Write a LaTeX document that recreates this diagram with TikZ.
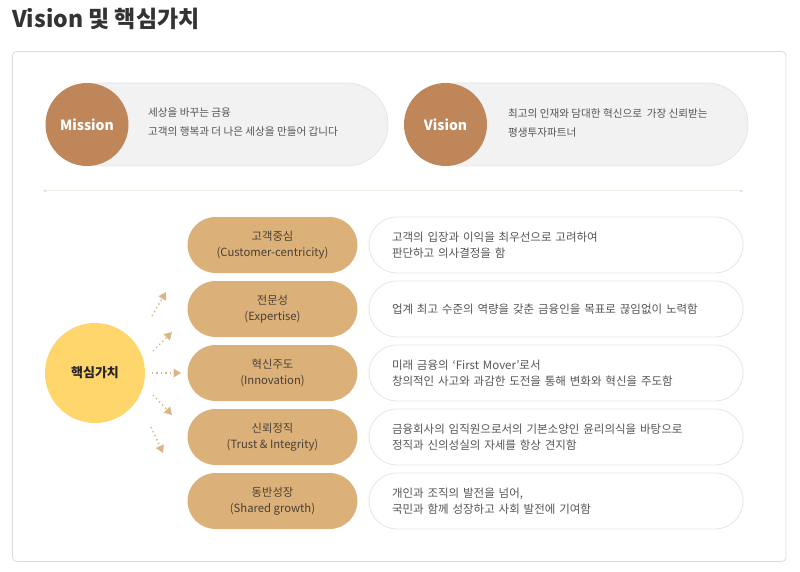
\documentclass[tikz,border=0pt]{standalone}
\usepackage{fontspec}
\setmainfont{Noto Sans CJK KR}
\usetikzlibrary{arrows.meta}
\definecolor{brownc}{HTML}{BE8659}
\definecolor{tanc}{HTML}{DBB179}
\definecolor{yellowc}{HTML}{FFD66B}
\definecolor{arrowc}{HTML}{D9B684}
\definecolor{grayfill}{HTML}{F2F2F2}
\definecolor{grayborder}{HTML}{E6E6E6}
\definecolor{descborder}{HTML}{E6E6E6}
\definecolor{framec}{HTML}{DCDCDC}
\definecolor{linec}{HTML}{F1ECE5}
\definecolor{textgray}{HTML}{555555}
\definecolor{titlec}{HTML}{333333}
\definecolor{valtext}{HTML}{4A4036}
\tikzset{
  graypill/.style={draw=grayborder, fill=grayfill, line width=0.8pt, minimum width=328pt, minimum height=83pt, rounded corners=41.5pt, inner sep=0pt},
  browncirc/.style={circle, fill=brownc, minimum size=83pt, inner sep=0pt, text=white, font=\fontsize{14}{16}\selectfont\bfseries},
  pilltext/.style={anchor=west, align=left, inner sep=0pt, text=textgray, font=\fontsize{10.6}{19}\selectfont},
  valpill/.style={fill=tanc, minimum width=170pt, minimum height=56pt, rounded corners=28pt, inner sep=0pt, align=center, text=valtext, font=\fontsize{11.3}{16}\selectfont},
  descpill/.style={draw=descborder, fill=white, line width=0.8pt, minimum height=56pt, rounded corners=28pt, inner xsep=23pt, inner ysep=0pt, text width=328pt, align=left, text=textgray, font=\fontsize{11.5}{15.5}\selectfont},
  corecirc/.style={circle, fill=yellowc, minimum size=100pt, inner sep=0pt, text=black!85, font=\fontsize{13}{15}\selectfont\bfseries},
  dotarrow/.style={draw=arrowc, line width=1.4pt, dash pattern=on 1.4pt off 3pt, -{Triangle[length=7.5pt,width=8.5pt]}}
}
\begin{document}
\begin{tikzpicture}[x=1pt,y=-1pt]
\useasboundingbox (0,0) rectangle (800,572);
\fill[white] (0,0) rectangle (800,572);
% title
\node[anchor=base west, inner sep=0pt, text=titlec, font=\fontsize{23}{26}\selectfont\bfseries] (title) at (12,28) {Vision 및 핵심가치};
% frame
\draw[framec, line width=0.8pt, rounded corners=4pt] (12.5,51.5) rectangle (786,561.5);
% mission
\node[graypill] (mpill) at (224,124.5) {};
\node[browncirc] (mission) at (87,124.5) {Mission};
\node[pilltext] (mtext) at (148,122.5) {세상을 바꾸는 금융\\고객의 행복과 더 나은 세상을 만들어 갑니다};
% vision
\node[graypill] (vpill) at (584,124.5) {};
\node[browncirc] (vision) at (445.5,124.5) {Vision};
\node[pilltext] (vtext) at (508,122.5) {최고의 인재와 담대한 혁신으로\ \ 가장 신뢰받는\\평생투자파트너};
% divider
\coordinate (l1) at (45,191);
\coordinate (l2) at (741,191);
\draw[linec, line width=1pt] (l1) -- (l2);
\fill[black!12] (l1) circle (1.5pt);
\fill[black!12] (l2) circle (1.5pt);
% core
\node[corecirc] (core) at (95,373) {핵심가치};
% values
\node[valpill] (v1) at (272.5,245) {고객중심\\(Customer-centricity)};
\node[valpill] (v2) at (272.5,309) {전문성\\(Expertise)};
\node[valpill] (v3) at (272.5,373) {혁신주도\\(Innovation)};
\node[valpill] (v4) at (272.5,437) {신뢰정직\\(Trust \& Integrity)};
\node[valpill] (v5) at (272.5,501) {동반성장\\(Shared growth)};
% descriptions
\node[descpill] (d1) at (556,245) {고객의 입장과 이익을 최우선으로 고려하여\\판단하고 의사결정을 함};
\node[descpill] (d2) at (556,309) {업계 최고 수준의 역량을 갖춘 금융인을 목표로 끊임없이 노력함};
\node[descpill] (d3) at (556,373) {미래 금융의 ‘First Mover’로서\\창의적인 사고와 과감한 도전을 통해 변화와 혁신을 주도함};
\node[descpill] (d4) at (556,437) {금융회사의 임직원으로서의 기본소양인 윤리의식을 바탕으로\\정직과 신의성실의 자세를 항상 견지함};
\node[descpill] (d5) at (556,501) {개인과 조직의 발전을 넘어,\\국민과 함께 성장하고 사회 발전에 기여함};
% arrows
\coordinate (a1s) at (152,316); \coordinate (a1e) at (166,292);
\coordinate (a2s) at (153,351); \coordinate (a2e) at (172,332);
\coordinate (a3s) at (152,373); \coordinate (a3e) at (181,373);
\coordinate (a4s) at (153,395); \coordinate (a4e) at (172,415);
\coordinate (a5s) at (151,427); \coordinate (a5e) at (163,453);
\draw[dotarrow] (a1s) -- (a1e);
\draw[dotarrow] (a2s) -- (a2e);
\draw[dotarrow] (a3s) -- (a3e);
\draw[dotarrow] (a4s) -- (a4e);
\draw[dotarrow] (a5s) -- (a5e);
\end{tikzpicture}
\end{document}
